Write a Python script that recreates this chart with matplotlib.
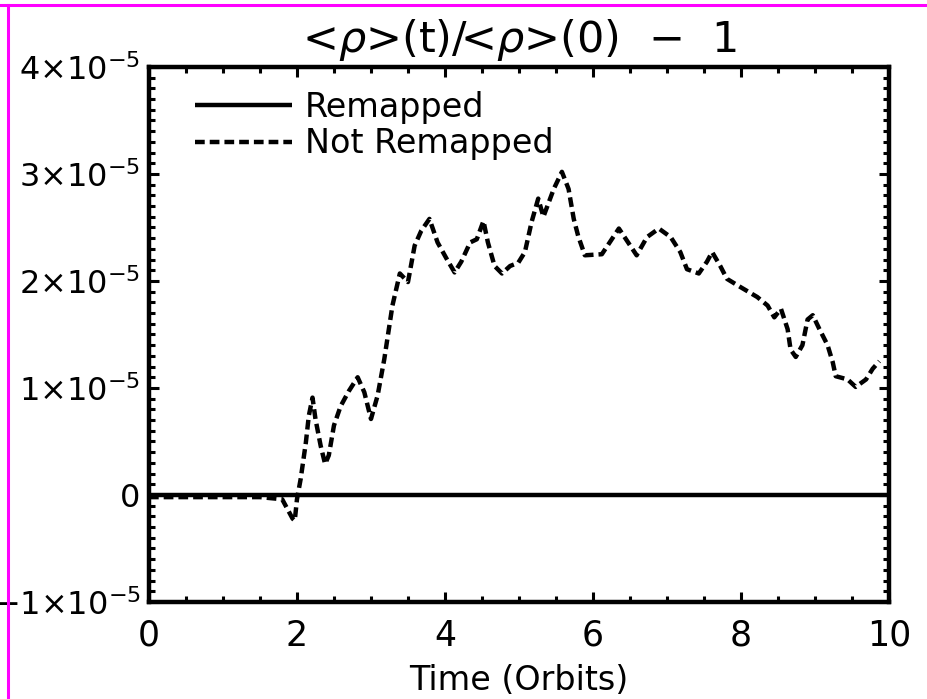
import matplotlib
matplotlib.use('Agg')
import matplotlib.pyplot as plt
from matplotlib.lines import Line2D
from matplotlib.ticker import MultipleLocator, FixedLocator, FixedFormatter

plt.rcParams['font.family'] = ['DejaVu Sans']
plt.rcParams['mathtext.fontset'] = 'dejavusans'
plt.rcParams['mathtext.default'] = 'regular'
plt.rcParams['lines.scale_dashes'] = False

# time in orbits, density change in units of 1e-5
t_remap = [0.0, 10.0]
rho_remap = [0.0, 0.0]

t_noremap = [0.0, 0.5, 1.0, 1.5, 1.8, 1.94, 1.97, 2.0, 2.05, 2.12, 2.16, 2.21,
             2.25, 2.32, 2.38, 2.43, 2.50, 2.59, 2.70, 2.82, 2.91, 3.0, 3.09,
             3.18, 3.29, 3.39, 3.50, 3.59, 3.68, 3.79, 3.90, 4.02, 4.13, 4.22,
             4.34, 4.43, 4.52, 4.58, 4.67, 4.77, 4.88, 4.99, 5.08, 5.17, 5.26,
             5.33, 5.47, 5.58, 5.67, 5.74, 5.80, 5.89, 6.12, 6.35, 6.59, 6.73,
             6.89, 7.05, 7.18, 7.27, 7.43, 7.54, 7.61, 7.72, 7.81, 8.0, 8.22,
             8.36, 8.45, 8.54, 8.63, 8.67, 8.74, 8.83, 8.90, 8.97, 9.06, 9.17,
             9.24, 9.28, 9.44, 9.55, 9.69, 9.78, 9.87]
rho_noremap = [-0.02, -0.02, -0.02, -0.02, -0.04, -0.22, -0.24, -0.04, 0.15,
               0.49, 0.74, 0.91, 0.71, 0.46, 0.29, 0.37, 0.65, 0.83, 0.97,
               1.10, 0.96, 0.71, 0.93, 1.27, 1.77, 2.07, 1.99, 2.33, 2.47,
               2.58, 2.36, 2.21, 2.08, 2.18, 2.36, 2.39, 2.56, 2.36, 2.14,
               2.07, 2.14, 2.17, 2.27, 2.55, 2.77, 2.60, 2.86, 3.02, 2.86,
               2.58, 2.42, 2.24, 2.25, 2.49, 2.24, 2.41, 2.49, 2.41, 2.27,
               2.11, 2.07, 2.18, 2.27, 2.14, 2.02, 1.94, 1.85, 1.77, 1.66,
               1.74, 1.55, 1.36, 1.29, 1.40, 1.64, 1.68, 1.55, 1.40, 1.24,
               1.11, 1.08, 1.01, 1.08, 1.18, 1.25]

x_ticks = [0, 2, 4, 6, 8, 10]
y_ticks = [-1e-5, 0, 1e-5, 2e-5, 3e-5, 4e-5]
y_labels = [r'$-1{\times}10^{-5}$', '0', r'$1{\times}10^{-5}$',
            r'$2{\times}10^{-5}$', r'$3{\times}10^{-5}$', r'$4{\times}10^{-5}$']

scale = 1e-5

fig = plt.figure(figsize=(9.27, 6.99), dpi=100)
ax = fig.add_axes([0.1607, 0.1388, 0.7983, 0.7654])

ax.plot(t_remap, [v * scale for v in rho_remap], color='black', lw=3.2,
        solid_capstyle='butt', label='Remapped')
ax.plot(t_noremap, [v * scale for v in rho_noremap], color='black', lw=3.2,
        ls=(0, (7, 3.6)), dash_capstyle='butt', label='Not Remapped')

ax.set_xlim(0, 10)
ax.set_ylim(-1e-5, 4e-5)
ax.xaxis.set_major_locator(FixedLocator(x_ticks))
ax.xaxis.set_minor_locator(MultipleLocator(0.5))
ax.yaxis.set_major_locator(FixedLocator(y_ticks))
ax.yaxis.set_major_formatter(FixedFormatter(y_labels))
ax.yaxis.set_minor_locator(MultipleLocator(0.1e-5))
ax.set_xticklabels([str(v) for v in x_ticks])

ax.tick_params(which='both', direction='in', top=True, right=True, width=2.2)
ax.tick_params(which='major', length=7.5)
ax.tick_params(which='minor', length=4)
ax.tick_params(axis='x', labelsize=25, pad=12)
ax.tick_params(axis='y', labelsize=23, pad=6)
for s in ax.spines.values():
    s.set_linewidth(3.2)

ax.set_title(r'<$\mathit{\rho}$>(t)/<$\mathit{\rho}$>(0)  $-$  1',
             fontsize=31, pad=11)
ax.set_xlabel('Time (Orbits)', fontsize=24, labelpad=8)

ax.legend(loc='upper left', bbox_to_anchor=(0.062, 0.955), frameon=False,
          fontsize=24, handlelength=2.9, handletextpad=0.4, labelspacing=0.1,
          borderpad=0, borderaxespad=0)

# magenta frame on the top and left edges
fig.add_artist(Line2D([0, 1], [0.993, 0.993], color='#ff00ff', lw=2.2,
                      transform=fig.transFigure))
fig.add_artist(Line2D([0.0086, 0.0086], [0, 0.993], color='#ff00ff', lw=2.2,
                      transform=fig.transFigure))

fig.savefig('out.png', dpi=100)
